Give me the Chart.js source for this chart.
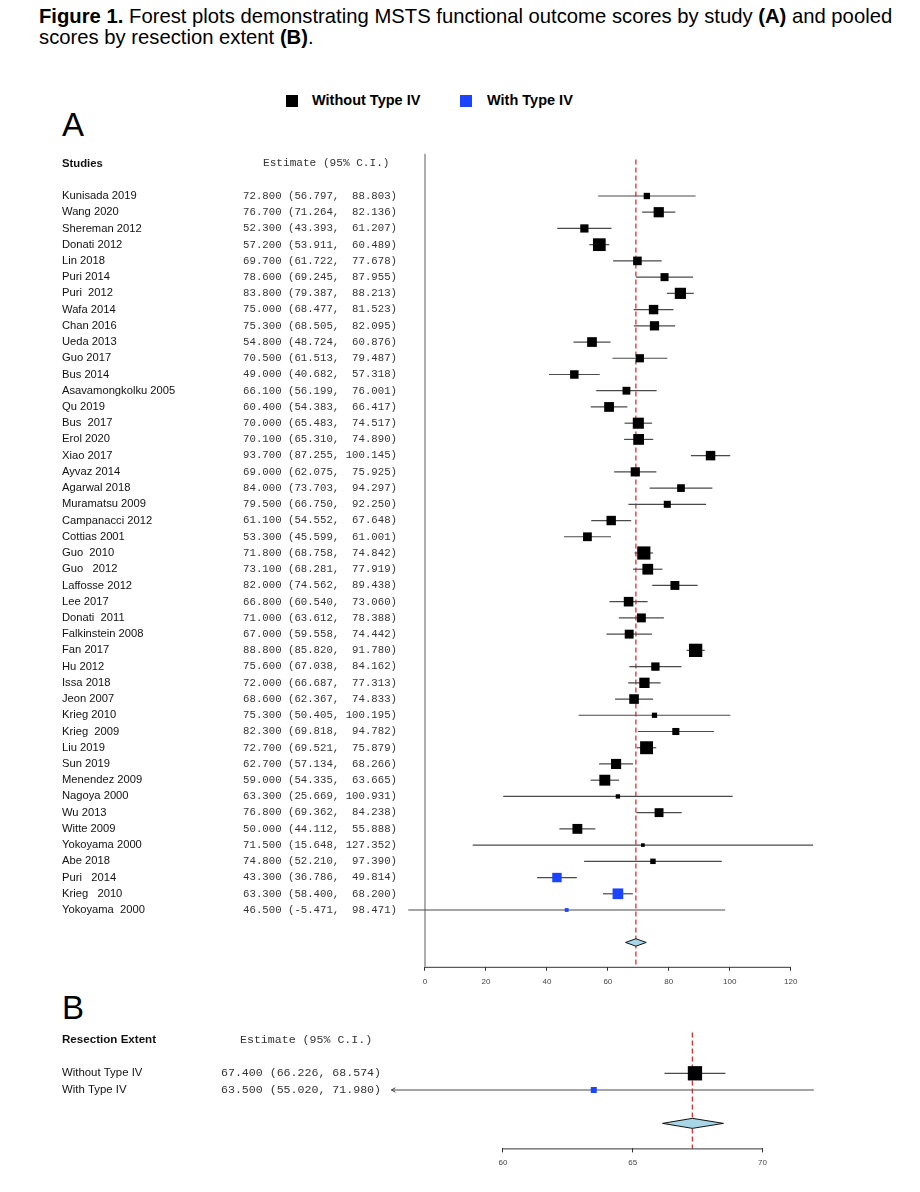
<!DOCTYPE html>
<html>
<head>
<meta charset="utf-8">
<script src="https://cdn.jsdelivr.net/npm/chart.js@4.4.1/dist/chart.umd.min.js"></script>
<style>
  body { margin:0; background:#fff; font-family:"Liberation Sans", Arial, sans-serif; color:#000; }
  #page { position:relative; width:920px; height:1192px; overflow:hidden; }
  #title { position:absolute; left:39px; top:6px; font-size:20.25px; line-height:21px; white-space:nowrap; }
  .panel { position:absolute; left:62px; font-size:33px; line-height:33px; }
  .legend { position:absolute; top:93px; font-size:14.5px; line-height:14.5px; font-weight:bold; white-space:nowrap; }
  .swatch { position:absolute; top:95px; width:12px; height:12px; }
  canvas { position:absolute; left:0; }
</style>
</head>
<body>
<div id="page">
  <div id="title"><b>Figure 1.</b> Forest plots demonstrating MSTS functional outcome scores by study <b>(A)</b> and pooled<br>scores by resection extent <b>(B)</b>.</div>

  <div class="swatch" style="left:286px;background:#000"></div>
  <div class="legend" style="left:312px">Without Type IV</div>
  <div class="swatch" style="left:460px;background:#1a44ff"></div>
  <div class="legend" style="left:487px">With Type IV</div>

  <div class="panel" style="top:108px">A</div>
  <div class="panel" style="top:991px">B</div>

  <canvas id="chartA" width="920" height="1000" style="top:0"></canvas>
  <canvas id="chartB" width="920" height="192" style="top:1000px"></canvas>
</div>

<script>
// ---- Panel A: studies without Type IV resection ----
const studiesNoIV = [
  'Kunisada 2019', 'Wang 2020', 'Shereman 2012', 'Donati 2012', 'Lin 2018', 'Puri 2014',
  'Puri  2012', 'Wafa 2014', 'Chan 2016', 'Ueda 2013', 'Guo 2017', 'Bus 2014',
  'Asavamongkolku 2005', 'Qu 2019', 'Bus  2017', 'Erol 2020', 'Xiao 2017', 'Ayvaz 2014',
  'Agarwal 2018', 'Muramatsu 2009', 'Campanacci 2012', 'Cottias 2001', 'Guo  2010', 'Guo   2012',
  'Laffosse 2012', 'Lee 2017', 'Donati  2011', 'Falkinstein 2008', 'Fan 2017', 'Hu 2012',
  'Issa 2018', 'Jeon 2007', 'Krieg 2010', 'Krieg  2009', 'Liu 2019', 'Sun 2019',
  'Menendez 2009', 'Nagoya 2000', 'Wu 2013', 'Witte 2009', 'Yokoyama 2000', 'Abe 2018'
];
const estNoIV = [
  72.8, 76.7, 52.3, 57.2, 69.7, 78.6, 83.8, 75.0, 75.3, 54.8, 70.5, 49.0,
  66.1, 60.4, 70.0, 70.1, 93.7, 69.0, 84.0, 79.5, 61.1, 53.3, 71.8, 73.1,
  82.0, 66.8, 71.0, 67.0, 88.8, 75.6, 72.0, 68.6, 75.3, 82.3, 72.7, 62.7,
  59.0, 63.3, 76.8, 50.0, 71.5, 74.8
];
const lowNoIV = [
  56.797, 71.264, 43.393, 53.911, 61.722, 69.245, 79.387, 68.477, 68.505, 48.724, 61.513, 40.682,
  56.199, 54.383, 65.483, 65.310, 87.255, 62.075, 73.703, 66.750, 54.552, 45.599, 68.758, 68.281,
  74.562, 60.540, 63.612, 59.558, 85.820, 67.038, 66.687, 62.367, 50.405, 69.818, 69.521, 57.134,
  54.335, 25.669, 69.362, 44.112, 15.648, 52.210
];
const highNoIV = [
  88.803, 82.136, 61.207, 60.489, 77.678, 87.955, 88.213, 81.523, 82.095, 60.876, 79.487, 57.318,
  76.001, 66.417, 74.517, 74.890, 100.145, 75.925, 94.297, 92.250, 67.648, 61.001, 74.842, 77.919,
  89.438, 73.060, 78.388, 74.442, 91.780, 84.162, 77.313, 74.833, 100.195, 94.782, 75.879, 68.266,
  63.665, 100.931, 84.238, 55.888, 127.352, 97.390
];

// ---- Panel A: studies with Type IV resection ----
const studiesIV = ['Puri   2014', 'Krieg   2010', 'Yokoyama  2000'];
const estIV  = [43.3, 63.3, 46.5];
const lowIV  = [36.786, 58.400, -5.471];
const highIV = [49.814, 68.200, 98.471];

// pooled estimate of panel A: [estimate, lower, upper] (read off the diamond)
const pooledA = [69.2, 65.8, 72.6];
const ticksA = [0, 20, 40, 60, 80, 100, 120];

// ---- Panel B: pooled by resection extent ----
const extentGroups = ['Without Type IV', 'With Type IV'];
const estExtent  = [67.400, 63.500];
const lowExtent  = [66.226, 55.020];
const highExtent = [68.574, 71.980];
const pooledB = [67.3, 66.15, 68.5];
const ticksB = [60, 65, 70];

const BLACK = '#000000';
const BLUE = '#1a44ff';

// text columns, axis line and clipping arrows
const forestDecor = {
  id: 'forestDecor',
  afterDatasetsDraw(chart, args, o) {
    const { ctx, chartArea, scales: { x, y } } = chart;
    ctx.save();
    // axis line between first and last tick
    ctx.strokeStyle = '#333';
    ctx.lineWidth = 1;
    ctx.beginPath();
    ctx.moveTo(x.getPixelForValue(o.ticks[0]), chartArea.bottom + 0.5);
    ctx.lineTo(x.getPixelForValue(o.ticks[o.ticks.length - 1]), chartArea.bottom + 0.5);
    ctx.stroke();

    // arrows where a CI runs past the plotted range
    ctx.strokeStyle = '#444';
    o.low.forEach((v, i) => {
      if (v >= o.xMin) return;
      const px = x.getPixelForValue(o.xMin), py = y.getPixelForValue(i);
      ctx.beginPath();
      ctx.moveTo(px + 4, py - 2.2);
      ctx.lineTo(px, py);
      ctx.lineTo(px + 4, py + 2.2);
      ctx.stroke();
    });

    // headers
    ctx.textBaseline = 'middle';
    ctx.fillStyle = '#111';
    ctx.textAlign = 'left';
    ctx.font = `bold ${o.headSize}px "Liberation Sans"`;
    ctx.fillText(o.header, o.labelX, y.getPixelForValue(-2));
    ctx.font = `${o.monoHeadSize}px "Liberation Mono"`;
    ctx.fillStyle = '#333';
    ctx.fillText('Estimate (95% C.I.)', o.estHeadX, y.getPixelForValue(-2));

    // row labels and estimate text
    const padHi = Math.max(...o.high.map(v => v.toFixed(3).length));
    o.names.forEach((name, i) => {
      const py = y.getPixelForValue(i);
      ctx.textAlign = 'left';
      ctx.fillStyle = '#111';
      ctx.font = `${o.labelSize}px "Liberation Sans"`;
      ctx.fillText(name, o.labelX, py);
      const s = `${o.est[i].toFixed(3)} (${o.low[i].toFixed(3)}, ${o.high[i].toFixed(3).padStart(padHi)})`;
      ctx.textAlign = 'right';
      ctx.fillStyle = '#333';
      ctx.font = `${o.monoSize}px "Liberation Mono"`;
      ctx.fillText(s, o.estRight, py);
    });
    ctx.restore();
  }
};

function forestChart(canvasId, p) {
  const rows = p.est.map((_, i) => i);
  const widths = rows.map(i => p.high[i] - p.low[i]);
  const narrow = Math.min(...widths);
  // box side shrinks with CI width (precision weighting)
  const side = widths.map(w => p.boxMax * Math.pow(narrow / w, 0.44));
  const dRow = p.est.length + 1;
  const h = p.diamondHalf;

  const datasets = [
    {
      data: rows.map(i => ({ x: p.est[i], y: i })),
      pointStyle: 'rect',
      pointRadius: side.map(s => s / Math.SQRT2),
      pointBackgroundColor: p.colors,
      pointBorderWidth: 0,
      clip: false,
      order: 0
    },
    ...rows.map(i => ({
      data: [{ x: Math.max(p.low[i], p.xMin), y: i }, { x: p.high[i], y: i }],
      showLine: true, borderColor: '#4a4a4a', borderWidth: 1.2,
      pointRadius: 0, clip: false, order: 2
    })),
    {
      data: [
        { x: p.pooled[1], y: dRow }, { x: p.pooled[0], y: dRow - h },
        { x: p.pooled[2], y: dRow }, { x: p.pooled[0], y: dRow + h },
        { x: p.pooled[1], y: dRow }
      ],
      showLine: true, fill: 'shape', backgroundColor: '#a7d6e6',
      borderColor: '#111', borderWidth: 1, pointRadius: 0, tension: 0, clip: false, order: 1
    },
    {
      data: [{ x: p.pooled[0], y: p.redTop }, { x: p.pooled[0], y: p.yMax }],
      showLine: true, borderColor: '#f0282a', borderDash: [5, 3], borderWidth: 1.3,
      pointRadius: 0, clip: false, order: 3
    }
  ];
  if (p.zeroLine) {
    datasets.push({
      data: [{ x: 0, y: p.yMin }, { x: 0, y: p.yMax }],
      showLine: true, borderColor: '#9a9a9a', borderWidth: 1.6,
      pointRadius: 0, clip: false, order: 4
    });
  }

  return new Chart(document.getElementById(canvasId), {
    type: 'scatter',
    data: { datasets },
    options: {
      responsive: false, animation: false, events: [],
      layout: { padding: p.padding },
      plugins: { legend: { display: false }, tooltip: { enabled: false }, forestDecor: {
        names: p.names, est: p.est, low: p.low, high: p.high, ticks: p.ticks, xMin: p.xMin,
        header: p.header, labelX: 62, labelSize: p.labelSize, headSize: p.headSize,
        monoSize: p.monoSize, monoHeadSize: p.monoHeadSize, estRight: p.estRight, estHeadX: p.estHeadX
      } },
      scales: {
        x: {
          type: 'linear', min: p.xMin, max: p.xMax,
          afterBuildTicks: s => { s.ticks = p.ticks.map(v => ({ value: v })); },
          afterFit: s => { s.height = 30; },
          border: { display: false },
          grid: { drawOnChartArea: false, drawTicks: true, tickLength: 4, color: '#333' },
          ticks: { font: { size: 8, family: 'Liberation Sans' }, color: '#444', padding: 6, maxRotation: 0, autoSkip: false }
        },
        y: { type: 'linear', display: false, reverse: true, min: p.yMin, max: p.yMax }
      }
    },
    plugins: [forestDecor]
  });
}

forestChart('chartA', {
  names: studiesNoIV.concat(studiesIV),
  est: estNoIV.concat(estIV),
  low: lowNoIV.concat(lowIV),
  high: highNoIV.concat(highIV),
  colors: studiesNoIV.map(() => BLACK).concat(studiesIV.map(() => BLUE)),
  pooled: pooledA, ticks: ticksA,
  xMin: -6, xMax: 128, yMin: -2.6, yMax: 47.5, redTop: -2.25,
  padding: { left: 406.7, right: 104.9, top: 153.8, bottom: 3.2 },
  boxMax: 13.3, diamondHalf: 0.23, zeroLine: true,
  header: 'Studies', labelSize: 11.2, headSize: 11.3, monoSize: 10.7, monoHeadSize: 11.1,
  estRight: 397, estHeadX: 263
});

forestChart('chartB', {
  names: extentGroups,
  est: estExtent, low: lowExtent, high: highExtent,
  colors: [BLACK, BLUE],
  pooled: pooledB, ticks: ticksB,
  xMin: 55.7, xMax: 72.0, yMin: -2.6, yMax: 4.5, redTop: -2.45,
  padding: { left: 391.4, right: 105.7, top: 29.9, bottom: 13.6 },
  boxMax: 14.3, diamondHalf: 0.3, zeroLine: false,
  header: 'Resection Extent', labelSize: 11.4, headSize: 11.6, monoSize: 11.6, monoHeadSize: 11.6,
  estRight: 381, estHeadX: 240
});
</script>
</body>
</html>
